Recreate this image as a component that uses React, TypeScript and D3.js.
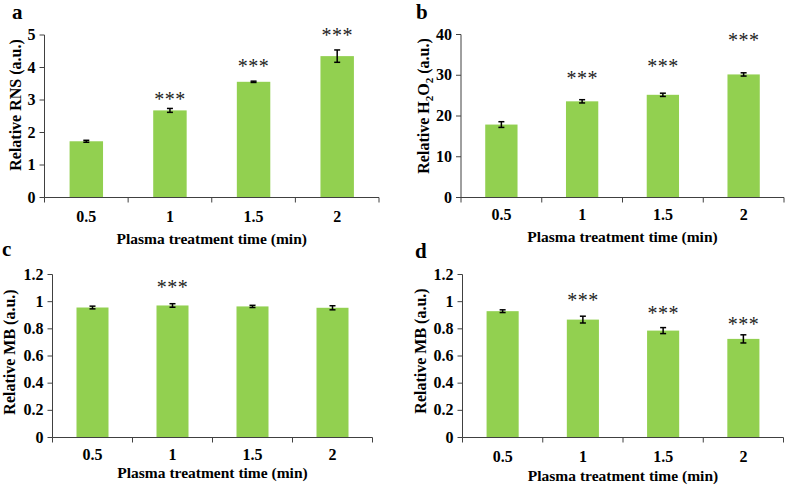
import React from "react";
import * as d3 from "d3";

const categories = ["0.5", "1", "1.5", "2"];

const rnsMean = [1.73, 2.68, 3.56, 4.35];
const rnsErr = [0.03, 0.06, 0.02, 0.19];
const rnsSig = [null, 3.1, 4.11, 5.05];
const rnsTicks = [0, 1, 2, 3, 4, 5];

const h2o2Mean = [17.9, 23.6, 25.2, 30.2];
const h2o2Err = [0.7, 0.4, 0.4, 0.4];
const h2o2Sig = [null, 29.8, 32.8, 39.2];
const h2o2Ticks = [0, 10, 20, 30, 40];

const mbCMean = [0.957, 0.972, 0.965, 0.955];
const mbCErr = [0.01, 0.013, 0.008, 0.015];
const mbCSig = [null, 1.123, null, null];

const mbDMean = [0.93, 0.868, 0.787, 0.726];
const mbDErr = [0.01, 0.025, 0.022, 0.03];
const mbDSig = [null, 1.025, 0.934, 0.848];
const mbTicks = [0, 0.2, 0.4, 0.6, 0.8, 1, 1.2];

const FONT = '"Liberation Serif", "Times New Roman", serif';
const BAR = "#92D050";
const AXIS = "#404040";

type PanelProps = {
  letter: string;
  letterX: number;
  letterY: number;
  x0: number;
  x1: number;
  yTop: number;
  yBottom: number;
  ticks: number[];
  mean: number[];
  err: number[];
  sig: (number | null)[];
  yTitle: React.ReactNode;
  yTitleX: number;
  yTitleY: number;
  tickLabelY: number;
  xTitleY: number;
};

function Panel(p: PanelProps) {
  const x = d3
    .scaleBand<string>()
    .domain(categories)
    .range([p.x0, p.x1])
    .paddingInner(0.6)
    .paddingOuter(0.3);
  const step = x.step();
  const y = d3
    .scaleLinear()
    .domain([0, p.ticks[p.ticks.length - 1]])
    .range([p.yBottom, p.yTop]);
  const boundaries = d3.range(categories.length + 1).map((i) => p.x0 + i * step);
  const fmt = (v: number) => String(+v.toFixed(2));
  return (
    <g>
      <text x={p.letterX} y={p.letterY} fontFamily={FONT} fontWeight="bold" fontSize={21} fill="#000">
        {p.letter}
      </text>
      {categories.map((c, i) => (
        <rect
          key={c}
          x={x(c)}
          y={y(p.mean[i])}
          width={x.bandwidth()}
          height={y(0) - y(p.mean[i])}
          fill={BAR}
        />
      ))}
      {categories.map((c, i) => {
        const cx = (x(c) as number) + x.bandwidth() / 2;
        const yt = y(p.mean[i] + p.err[i]);
        const yb = y(p.mean[i] - p.err[i]);
        return (
          <g key={"e" + c} stroke="#000" strokeWidth={1.5}>
            <line x1={cx} x2={cx} y1={yt} y2={yb} />
            <line x1={cx - 3} x2={cx + 3} y1={yt} y2={yt} />
            <line x1={cx - 3} x2={cx + 3} y1={yb} y2={yb} />
          </g>
        );
      })}
      {categories.map((c, i) =>
        p.sig[i] == null ? null : (
          <text
            key={"s" + c}
            x={(x(c) as number) + x.bandwidth() / 2}
            y={y(p.sig[i] as number) + 9}
            textAnchor="middle"
            fontFamily={FONT}
            fontSize={20}
            letterSpacing={0.5}
            fill="#222"
          >
            ***
          </text>
        )
      )}
      <line x1={p.x0} x2={p.x0} y1={p.yTop} y2={p.yBottom} stroke={AXIS} strokeWidth={1} />
      {p.ticks.map((t) => (
        <g key={"yt" + t}>
          <line x1={p.x0 - 5} x2={p.x0} y1={y(t)} y2={y(t)} stroke={AXIS} strokeWidth={1} />
          <text
            x={p.x0 - 9}
            y={y(t) + 5}
            textAnchor="end"
            fontFamily={FONT}
            fontWeight="bold"
            fontSize={16}
            fill="#000"
          >
            {fmt(t)}
          </text>
        </g>
      ))}
      <line x1={p.x0} x2={p.x1} y1={p.yBottom} y2={p.yBottom} stroke={AXIS} strokeWidth={1} />
      {boundaries.map((b, i) => (
        <line key={"xt" + i} x1={b} x2={b} y1={p.yBottom} y2={p.yBottom + 5} stroke={AXIS} strokeWidth={1} />
      ))}
      {categories.map((c) => (
        <text
          key={"xl" + c}
          x={(x(c) as number) + x.bandwidth() / 2}
          y={p.tickLabelY}
          textAnchor="middle"
          fontFamily={FONT}
          fontWeight="bold"
          fontSize={16}
          fill="#000"
        >
          {c}
        </text>
      ))}
      <text
        x={(p.x0 + p.x1) / 2}
        y={p.xTitleY}
        textAnchor="middle"
        fontFamily={FONT}
        fontWeight="bold"
        fontSize={15.5}
        fill="#000"
      >
        Plasma treatment time (min)
      </text>
      <text
        transform={`translate(${p.yTitleX},${p.yTitleY}) rotate(-90)`}
        textAnchor="middle"
        fontFamily={FONT}
        fontWeight="bold"
        fontSize={16}
        fill="#000"
      >
        {p.yTitle}
      </text>
    </g>
  );
}

export default function App() {
  return (
    <svg
      width={787}
      height={486}
      style={{ position: "absolute", left: 0, top: 0, background: "#fff" }}
    >
      <rect width={787} height={486} fill="#fff" />
      <Panel
        letter="a"
        letterX={12}
        letterY={19}
        x0={44.5}
        x1={379}
        yTop={35}
        yBottom={197.5}
        ticks={rnsTicks}
        mean={rnsMean}
        err={rnsErr}
        sig={rnsSig}
        yTitle="Relative RNS (a.u.)"
        yTitleX={20.5}
        yTitleY={105}
        tickLabelY={221.5}
        xTitleY={244}
      />
      <Panel
        letter="b"
        letterX={416}
        letterY={19}
        x0={461}
        x1={784}
        yTop={34.5}
        yBottom={197.5}
        ticks={h2o2Ticks}
        mean={h2o2Mean}
        err={h2o2Err}
        sig={h2o2Sig}
        yTitle={
          <>
            Relative H<tspan fontSize={11} dy={4}>2</tspan>
            <tspan dy={-4}>O</tspan>
            <tspan fontSize={11} dy={4}>2</tspan>
            <tspan dy={-4}> (a.u.)</tspan>
          </>
        }
        yTitleX={429}
        yTitleY={106}
        tickLabelY={220}
        xTitleY={242}
      />
      <Panel
        letter="c"
        letterX={2}
        letterY={256}
        x0={52.5}
        x1={372.5}
        yTop={274.5}
        yBottom={437.5}
        ticks={mbTicks}
        mean={mbCMean}
        err={mbCErr}
        sig={mbCSig}
        yTitle="Relative MB (a.u.)"
        yTitleX={15}
        yTitleY={352}
        tickLabelY={460}
        xTitleY={478}
      />
      <Panel
        letter="d"
        letterX={415}
        letterY={258}
        x0={462.5}
        x1={783.5}
        yTop={274.5}
        yBottom={437.5}
        ticks={mbTicks}
        mean={mbDMean}
        err={mbDErr}
        sig={mbDSig}
        yTitle="Relative MB (a.u.)"
        yTitleX={426}
        yTitleY={351}
        tickLabelY={461.5}
        xTitleY={481}
      />
    </svg>
  );
}
